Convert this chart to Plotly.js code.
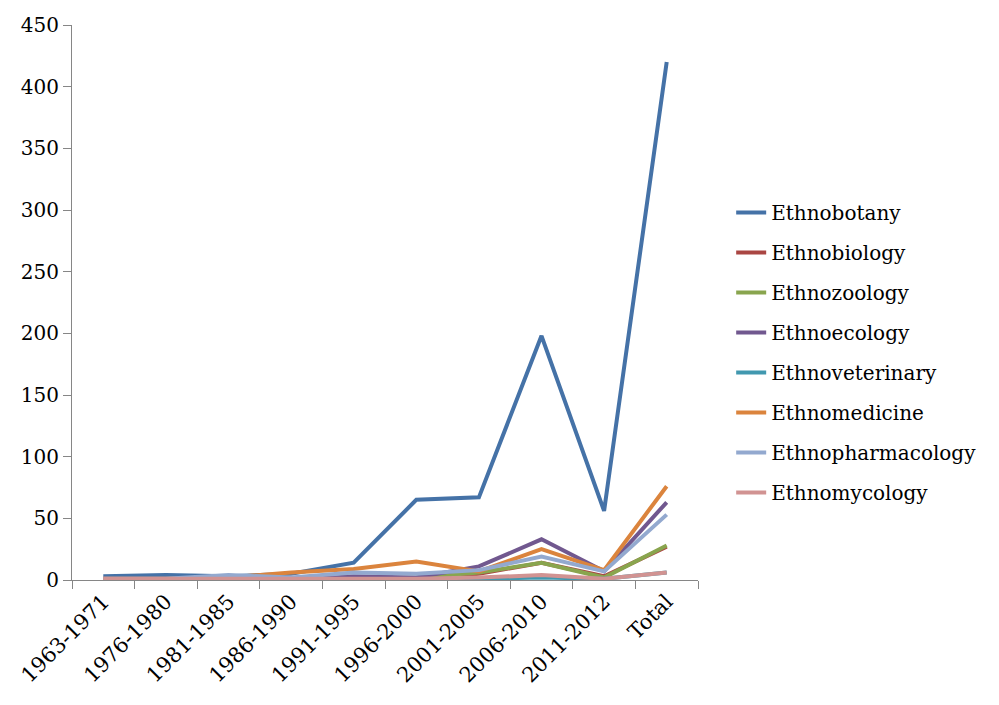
<!DOCTYPE html>
<html>
<head>
<meta charset="utf-8">
<script src="https://cdn.plot.ly/plotly-3.0.1.min.js"></script>
<style>
  html, body { margin: 0; padding: 0; background: #fff; }
  #chart { width: 999px; height: 705px; }
</style>
</head>
<body>
<div id="chart"></div>
<script>
const periods = ['1963-1971', '1976-1980', '1981-1985', '1986-1990', '1991-1995',
                 '1996-2000', '2001-2005', '2006-2010', '2011-2012', 'Total'];

const ethnobotany       = [3, 4, 3, 5, 14, 65, 67, 198, 56, 420];
const ethnobiology      = [0, 0, 0, 0, 0, 0, 5, 14, 3, 27];
const ethnozoology      = [0, 0, 0, 0, 1, 2, 6, 14, 2, 28];
const ethnoecology      = [0, 0, 0, 0, 3, 2, 11, 33, 7, 63];
const ethnoveterinary   = [0, 0, 0, 0, 0, 0, 1, 2, 1, 6];
const ethnomedicine     = [1, 1, 2, 6, 9, 15, 7, 25, 8, 76];
const ethnopharmacology = [1, 1, 4, 2, 6, 5, 8, 19, 7, 53];
const ethnomycology     = [1, 1, 1, 1, 1, 1, 2, 4, 1, 6];

const seriesNames = ['Ethnobotany', 'Ethnobiology', 'Ethnozoology', 'Ethnoecology',
                     'Ethnoveterinary', 'Ethnomedicine', 'Ethnopharmacology', 'Ethnomycology'];
const seriesValues = [ethnobotany, ethnobiology, ethnozoology, ethnoecology,
                      ethnoveterinary, ethnomedicine, ethnopharmacology, ethnomycology];
const colors = ['#4572A7', '#AA4643', '#89A54E', '#71588F',
                '#4198AF', '#DB843D', '#93A9CF', '#D19392'];

const axisColor = '#868686';
// Times isn't available here, DejaVu Serif is the closest serif face
const font = 'DejaVu Serif';

// one legend group per series so tracegroupgap spaces the rows out
const traces = seriesNames.map((name, i) => ({
    x: periods,
    y: seriesValues[i],
    name: name,
    legendgroup: 'g' + i,
    type: 'scatter',
    mode: 'lines',
    line: { color: colors[i], width: 4 },
}));

const layout = {
    width: 999,
    height: 705,
    margin: { l: 72, r: 301, t: 25, b: 125 },
    paper_bgcolor: '#fff',
    plot_bgcolor: '#fff',
    font: { family: font, size: 20, color: '#000' },
    showlegend: true,
    legend: {
        x: 1.053,
        xanchor: 'left',
        y: 0.41,
        yanchor: 'middle',
        font: { family: font, size: 20, color: '#000' },
        tracegroupgap: 11,
        itemwidth: 30,
    },
    xaxis: {
        type: 'category',
        range: [-0.5, 9.5],
        tickangle: -45,
        showline: true,
        linecolor: axisColor,
        linewidth: 1,
        ticks: 'outside',
        tickson: 'boundaries',
        ticklen: 8,
        tickcolor: axisColor,
        showgrid: false,
        zeroline: false,
        tickfont: { family: font, size: 21, color: '#000' },
    },
    yaxis: {
        range: [0, 450],
        dtick: 50,
        showline: true,
        linecolor: axisColor,
        linewidth: 1,
        ticks: 'outside',
        ticklen: 8,
        tickcolor: axisColor,
        showgrid: false,
        zeroline: false,
        tickfont: { family: font, size: 20, color: '#000' },
    },
};

Plotly.newPlot('chart', traces, layout, { displayModeBar: false, staticPlot: true });
</script>
</body>
</html>
